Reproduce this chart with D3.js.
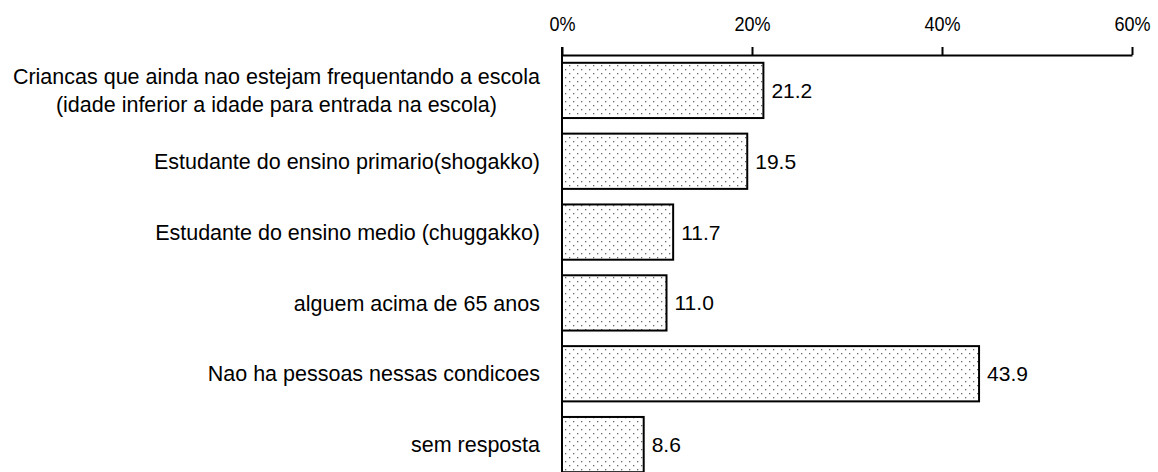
<!DOCTYPE html>
<html>
<head>
<meta charset="utf-8">
<script src="https://cdn.jsdelivr.net/npm/d3@7"></script>
<style>
  html, body { margin: 0; padding: 0; background: #fff; }
  svg text { font-family: "Liberation Sans", Arial, sans-serif; fill: #000; }
</style>
</head>
<body>
<svg id="chart" width="1158" height="472"></svg>
<script>
const categories = [
  ["Criancas que ainda nao estejam frequentando a escola", "(idade inferior a idade para entrada na escola)"],
  ["Estudante do ensino primario(shogakko)"],
  ["Estudante do ensino medio (chuggakko)"],
  ["alguem acima de 65 anos"],
  ["Nao ha pessoas nessas condicoes"],
  ["sem resposta"]
];
const values = [21.2, 19.5, 11.7, 11.0, 43.9, 8.6];
const tickValues = [0, 20, 40, 60];
const tickLabels = ["0%", "20%", "40%", "60%"];

const svg = d3.select("#chart");
const x = d3.scaleLinear().domain([0, 60]).range([562, 1132]);
const ids = categories.map((c, i) => i);
const y = d3.scaleBand().domain(ids).range([55, 480]).paddingInner(0.22).paddingOuter(0.11);

const defs = svg.append("defs");
const pat = defs.append("pattern").attr("id", "dots").attr("patternUnits", "userSpaceOnUse")
  .attr("width", 8).attr("height", 8);
pat.append("rect").attr("width", 8).attr("height", 8).attr("fill", "#fff");
pat.append("rect").attr("x", 1).attr("y", 1).attr("width", 1.3).attr("height", 1.3).attr("fill", "#6a6a6a");
pat.append("rect").attr("x", 5).attr("y", 5).attr("width", 1.3).attr("height", 1.3).attr("fill", "#6a6a6a");

// bars
svg.append("g").selectAll("rect").data(values).join("rect")
  .attr("x", x(0))
  .attr("y", (d, i) => y(i))
  .attr("width", d => x(d) - x(0))
  .attr("height", y.bandwidth())
  .attr("fill", "url(#dots)")
  .attr("stroke", "#000")
  .attr("stroke-width", 2);

// value labels
svg.append("g").selectAll("text").data(values).join("text")
  .attr("x", d => x(d) + 8)
  .attr("y", (d, i) => y(i) + y.bandwidth() / 2)
  .attr("dy", "0.36em")
  .attr("font-size", 21)
  .text(d => d.toFixed(1));

// top axis
const axis = d3.axisTop(x).tickValues(tickValues).tickSize(8).tickFormat((d, i) => tickLabels[i]).tickSizeOuter(0);
const gx = svg.append("g").attr("transform", "translate(0,55)").call(axis);
gx.select(".domain").attr("stroke", "#000").attr("stroke-width", 2);
gx.selectAll(".tick line").attr("stroke", "#000").attr("stroke-width", 2);
gx.selectAll(".tick text").attr("font-size", 21).attr("font-family", "'Liberation Sans', Arial, sans-serif")
  .attr("y", -24).attr("dy", 0).attr("fill", "#000")
  .attr("transform", "scale(0.86,1)");

// left axis line
const yAxis = d3.axisLeft(y).tickSize(0).tickFormat("");
const gy = svg.append("g").attr("transform", `translate(${x(0)},0)`).call(yAxis);
gy.select(".domain").attr("stroke", "#000").attr("stroke-width", 2)
  .attr("d", `M0,47V472`);

// category labels
const labelRight = 540;
const lineH = 28;
categories.forEach((lines, i) => {
  const cy = y(i) + y.bandwidth() / 2;
  const g = svg.append("g");
  const texts = lines.map((ln, j) => g.append("text")
    .attr("font-size", 21.5)
    .attr("y", cy + (j - (lines.length - 1) / 2) * lineH)
    .attr("dy", "0.36em")
    .text(ln));
  const maxW = d3.max(texts, t => t.node().getComputedTextLength());
  texts.forEach(t => t.attr("text-anchor", "middle").attr("x", labelRight - maxW / 2));
});
</script>
</body>
</html>
